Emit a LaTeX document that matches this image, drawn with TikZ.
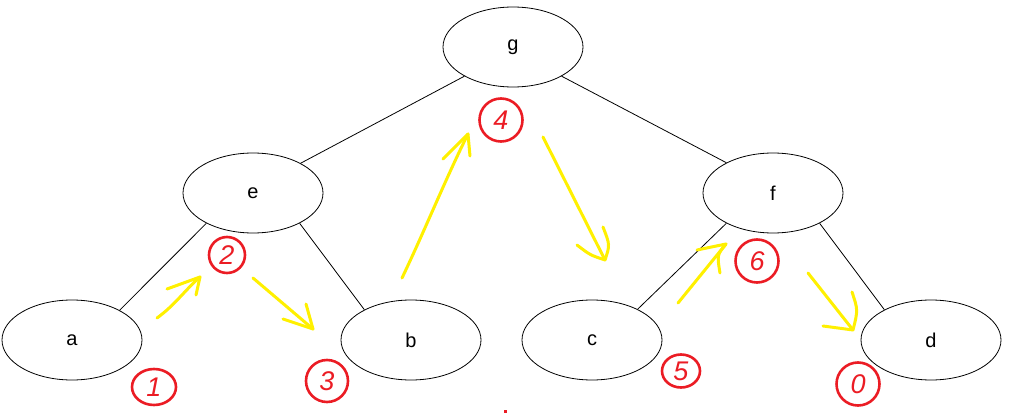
\documentclass[tikz,border=0pt]{standalone}
\usepackage{fontspec}
\setmainfont{Liberation Sans}
\usetikzlibrary{shapes.geometric,arrows.meta}
\definecolor{penyellow}{RGB}{255,240,0}
\definecolor{penred}{RGB}{235,28,36}
\begin{document}
\begin{tikzpicture}[x=1pt,y=-1pt,
	vertex/.style={ellipse, draw, line width=0.8pt, minimum width=140pt, minimum height=80pt, font=\fontsize{20}{24}\selectfont},
	numcircle/.style={circle, draw=penred, line width=2.6pt, minimum size=40pt, inner sep=0pt, text=penred, font=\fontsize{27}{28}\selectfont\itshape},
	hand/.style={penyellow, line width=3pt, line cap=round, line join=round}]
	\useasboundingbox (0,0) rectangle (1012,417);
	% tree
	\node[vertex] (g) at (513,47) {g};
	\node[vertex] (e) at (253,193) {e};
	\node[vertex] (f) at (773,193) {f};
	\node[vertex] (a) at (72,340) {a};
	\node[vertex] (b) at (411,340) {b};
	\node[vertex] (c) at (592,340) {c};
	\node[vertex] (d) at (931,340) {d};
	\draw[line width=0.8pt] (g.211) -- (e.32);
	\draw[line width=0.8pt] (g.-31) -- (f.147);
	\draw[line width=0.8pt] (e.213) -- (a.32);
	\draw[line width=0.8pt] (e.-33) -- (b.147);
	\draw[line width=0.8pt] (f.213) -- (c.34);
	\draw[line width=0.8pt] (f.-33) -- (d.147);
	% visiting order
	\node[numcircle, minimum width=44pt, minimum height=36pt, ellipse] (n1) at (154,387) {1};
	\node[numcircle, minimum size=36pt] (n2) at (227,255) {2};
	\node[numcircle, minimum size=42pt] (n3) at (327,381) {3};
	\node[numcircle, minimum size=43pt] (n4) at (501,120) {4};
	\node[numcircle, ellipse, minimum width=38pt, minimum height=33pt] (n5) at (681,371) {5};
	\node[numcircle, minimum size=43pt] (n6) at (757,261) {6};
	\node[numcircle, minimum size=43pt] (n7) at (858,384) {0};
	\fill[penred] (504,410) rectangle (507,413);
	% yellow arrows
	\coordinate (s1) at (157,318); \coordinate (t1) at (200,277);
	\draw[hand] (s1) .. controls (175,305) and (185,290) .. (t1);
	\draw[hand] (167,289) -- (t1) -- (196,295);
	\coordinate (s2) at (253,278); \coordinate (t2) at (313,329);
	\draw[hand] (s2) -- (t2);
	\draw[hand] (283,319) -- (t2) -- (306,304);
	\coordinate (s3) at (402,278); \coordinate (t3) at (468,134);
	\draw[hand] (s3) .. controls (425,230) and (445,180) .. (t3);
	\draw[hand] (443,159) -- (t3) -- (470,156);
	\coordinate (s4) at (543,137); \coordinate (t4) at (605,260);
	\draw[hand] (s4) -- (t4);
	\draw[hand] (577,245) .. controls (590,255) .. (t4) .. controls (610,245) .. (603,227);
	\coordinate (s5) at (678,303); \coordinate (t5) at (726,244);
	\draw[hand] (s5) -- (t5);
	\draw[hand] (697,250) -- (t5) .. controls (717,255) .. (720,273);
	\coordinate (s6) at (808,273); \coordinate (t6) at (853,330);
	\draw[hand] (s6) -- (t6);
	\draw[hand] (823,326) -- (t6) .. controls (858,310) .. (852,292);
\end{tikzpicture}
\end{document}
